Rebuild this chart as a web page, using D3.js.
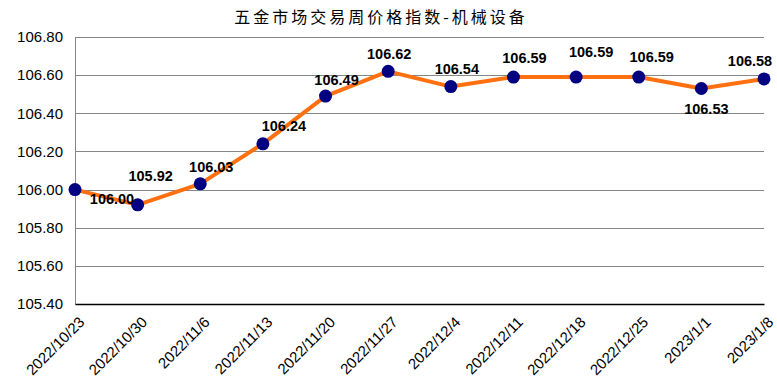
<!DOCTYPE html>
<html>
<head>
<meta charset="utf-8">
<script src="https://cdn.jsdelivr.net/npm/d3@7"></script>
<style>
  html, body { margin: 0; padding: 0; background: #fff; }
  svg { display: block; }
</style>
</head>
<body>
<div id="chart"></div>
<script>
// 五金市场交易周价格指数-机械设备
const title = "五金市场交易周价格指数-机械设备";
const dates = ["2022/10/23", "2022/10/30", "2022/11/6", "2022/11/13", "2022/11/20", "2022/11/27",
               "2022/12/4", "2022/12/11", "2022/12/18", "2022/12/25", "2023/1/1", "2023/1/8"];
const values = [106.00, 105.92, 106.03, 106.24, 106.49, 106.62, 106.54, 106.59, 106.59, 106.59, 106.53, 106.58];
const yTicks = [105.40, 105.60, 105.80, 106.00, 106.20, 106.40, 106.60, 106.80];

// label placement relative to each point (pixels), as in the original
const labelShift = [[37, 9], [13, -29], [11, -17], [21, -18], [11, -16], [1, -18],
                    [6, -18], [11, -19], [15, -25], [13, -20], [5, 20], [-14, -18]];

const W = 777, H = 383;
const margin = { top: 37, right: 13, bottom: 79, left: 75 };
const iw = W - margin.left - margin.right;
const ih = H - margin.top - margin.bottom;

const svg = d3.select("#chart").append("svg")
  .attr("width", W).attr("height", H);

svg.append("text")
  .attr("x", 381).attr("y", 23)
  .attr("text-anchor", "middle")
  .attr("font-family", "'Noto Sans CJK SC', sans-serif")
  .attr("font-size", "16px")
  .attr("letter-spacing", "3px")
  .attr("fill", "#000")
  .text(title);

const g = svg.append("g").attr("transform", `translate(${margin.left},${margin.top})`);

const x = d3.scalePoint().domain(dates).range([0, iw]);
const y = d3.scaleLinear().domain([105.4, 106.8]).range([ih, 0]);

// grid
g.append("g")
  .selectAll("line")
  .data(yTicks.slice(1))
  .join("line")
  .attr("x1", 0).attr("x2", iw)
  .attr("y1", d => Math.round(y(d)) + 0.5).attr("y2", d => Math.round(y(d)) + 0.5)
  .attr("stroke", "#868686").attr("stroke-width", 1);

// y axis
const yAxis = g.append("g")
  .call(d3.axisLeft(y).tickValues(yTicks).tickFormat(d3.format(".2f")).tickSize(0).tickPadding(12));
yAxis.select(".domain").attr("stroke", "#868686");
yAxis.selectAll("text")
  .attr("font-family", "Arial, 'Liberation Sans', sans-serif")
  .attr("font-size", "15px")
  .attr("fill", "#000");

// x axis
const xAxis = g.append("g")
  .attr("transform", `translate(0,${ih})`)
  .call(d3.axisBottom(x).tickSize(0).tickPadding(0));
xAxis.select(".domain").attr("stroke", "#000").attr("stroke-width", 1.3);
xAxis.selectAll("text")
  .attr("font-family", "Arial, 'Liberation Sans', sans-serif")
  .attr("font-size", "15px")
  .attr("fill", "#000")
  .attr("text-anchor", "end")
  .attr("dy", 0)
  .attr("transform", "translate(10,19) rotate(-45)");

// line
g.append("path")
  .datum(values)
  .attr("fill", "none")
  .attr("stroke", "#ff7010")
  .attr("stroke-width", 4)
  .attr("stroke-linejoin", "round")
  .attr("d", d3.line().x((d, i) => x(dates[i])).y(d => y(d)));

// points
g.append("g")
  .selectAll("circle")
  .data(values)
  .join("circle")
  .attr("cx", (d, i) => x(dates[i]))
  .attr("cy", d => y(d))
  .attr("r", 6.5)
  .attr("fill", "#000080");

// value labels
g.append("g")
  .selectAll("text")
  .data(values)
  .join("text")
  .attr("x", (d, i) => x(dates[i]) + labelShift[i][0])
  .attr("y", (d, i) => y(d) + labelShift[i][1])
  .attr("dy", "0.36em")
  .attr("text-anchor", "middle")
  .attr("font-family", "Arial, 'Liberation Sans', sans-serif")
  .attr("font-weight", "bold")
  .attr("font-size", "14.5px")
  .attr("fill", "#000")
  .text(d => d.toFixed(2));
</script>
</body>
</html>
